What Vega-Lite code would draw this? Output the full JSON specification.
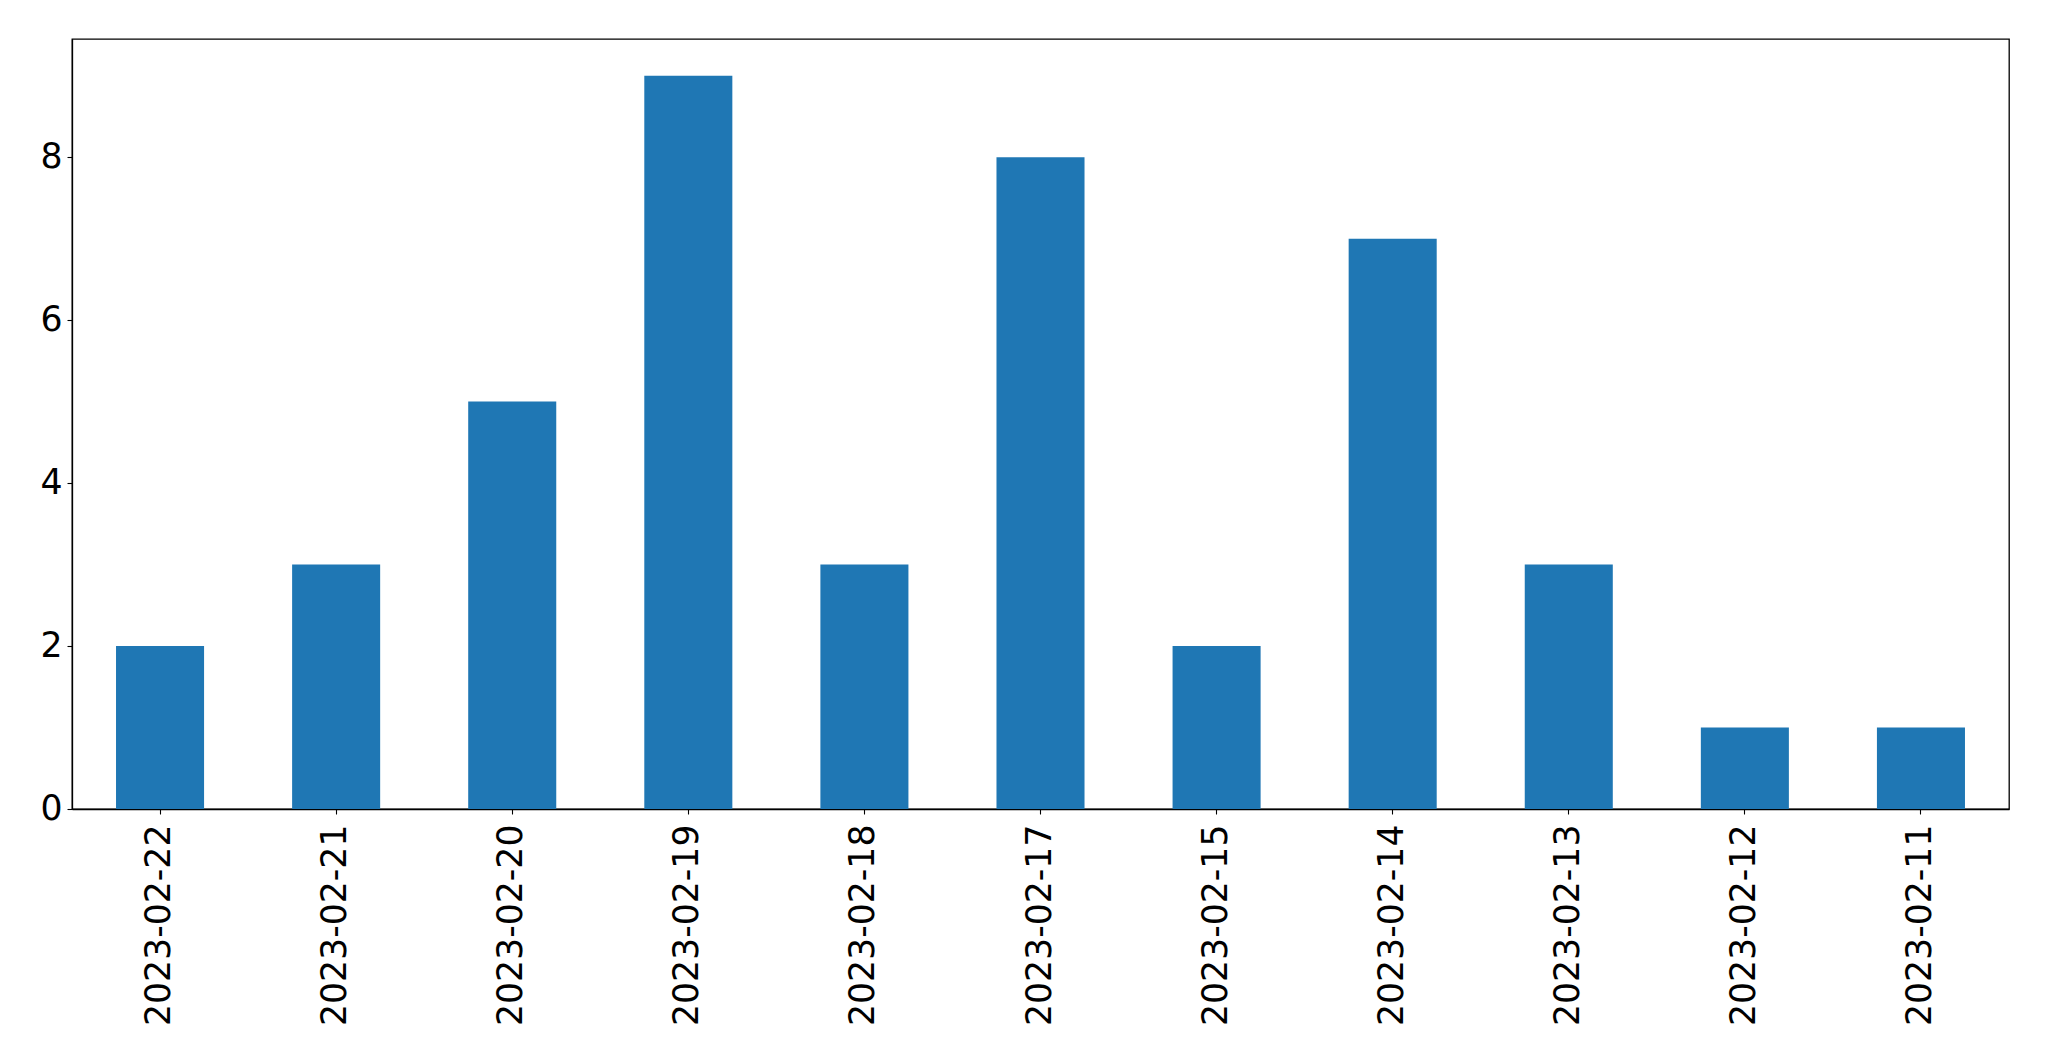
{
  "$schema": "https://vega.github.io/schema/vega-lite/v6.json",
  "autosize": "none",
  "width": 1937,
  "height": 770,
  "padding": {"left": 72, "top": 39, "right": 40, "bottom": 252},
  "background": "white",
  "config": {
    "view": {"stroke": "black", "strokeWidth": 1.3},
    "font": "DejaVu Sans",
    "axis": {"grid": false, "domainColor": "black", "domainWidth": 1.3, "tickColor": "black", "tickSize": 5, "tickWidth": 1.1, "labelColor": "black", "labelFont": "DejaVu Sans", "labelFontSize": 34.7, "labelLimit": 0, "title": null}
  },
  "data": {"values": [
    {"date": "2023-02-22", "count": 2},
    {"date": "2023-02-21", "count": 3},
    {"date": "2023-02-20", "count": 5},
    {"date": "2023-02-19", "count": 9},
    {"date": "2023-02-18", "count": 3},
    {"date": "2023-02-17", "count": 8},
    {"date": "2023-02-15", "count": 2},
    {"date": "2023-02-14", "count": 7},
    {"date": "2023-02-13", "count": 3},
    {"date": "2023-02-12", "count": 1},
    {"date": "2023-02-11", "count": 1}
  ]},
  "mark": {"type": "bar", "color": "#1f77b4"},
  "encoding": {
    "x": {"field": "date", "type": "nominal", "sort": null,
      "scale": {"paddingInner": 0.5, "paddingOuter": 0.25},
      "axis": {"labelAngle": -90, "labelPadding": 10, "labelAlign": "right", "labelBaseline": "middle", "labelLimit": 0}},
    "y": {"field": "count", "type": "quantitative",
      "scale": {"domain": [0, 9.45], "nice": false},
      "axis": {"values": [0, 2, 4, 6, 8], "labelPadding": 5}}
  }
}
